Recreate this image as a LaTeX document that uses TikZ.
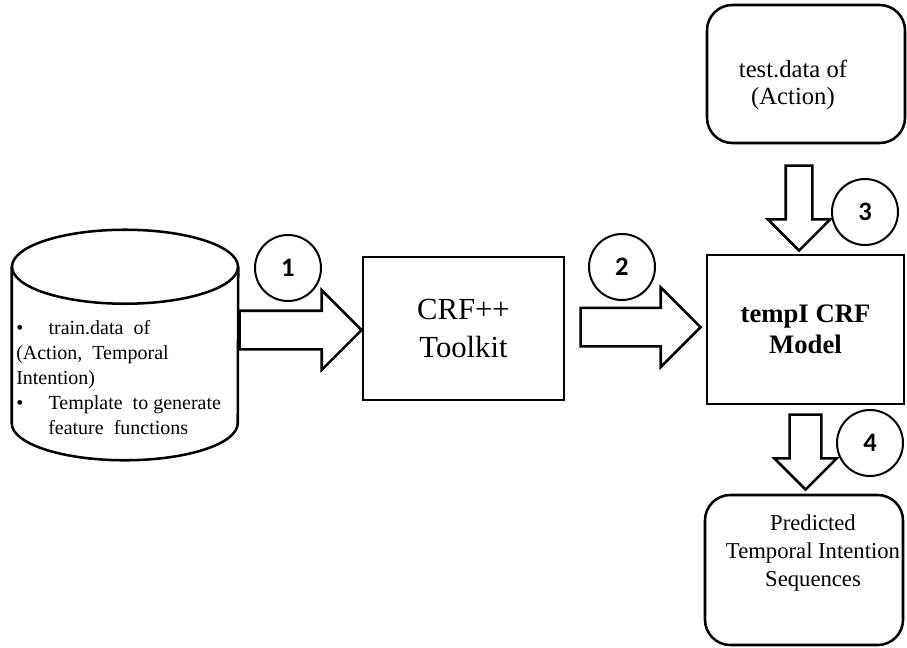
\documentclass[tikz,border=0pt]{standalone}
\usepackage{fontspec}
\setmainfont{Liberation Serif}
\newfontfamily\numfont{Carlito}
\usepackage{tikz}
\usetikzlibrary{shapes.arrows, shapes.geometric, calc, positioning}
\tikzset{
  plainbox/.style = {rectangle, draw, line width=1.9pt, align=center, text centered},
  roundbox/.style = {rectangle, draw, line width=1.9pt, rounded corners=19pt, minimum width=148.5pt},
  boxtext/.style = {align=center, inner sep=0pt},
  numcircle/.style = {circle, draw, line width=1.5pt, minimum size=49.5pt, inner sep=0pt, font=\numfont\bfseries\fontsize{20}{20}\selectfont},
  blockarr/.style = {single arrow, draw, line width=1.9pt, inner sep=0pt, single arrow head extend=15.4pt, minimum width=57.75pt, inner ysep=13.5pt},
  downarr/.style = {blockarr, rotate=-90, single arrow head extend=#1}
}
\begin{document}
\begin{tikzpicture}[x=0.75pt, y=-0.75pt]
    \useasboundingbox (0,0) rectangle (907,647);

    % training data (cylinder)
    \node[minimum width=169.5pt, minimum height=117pt, inner sep=0pt] (db) at (125,345) {};
    \draw[line width=1.9pt] (db.north west) -- (db.south west)
        arc[start angle=180, end angle=0, x radius=113, y radius=37] -- (db.north east);
    \draw[line width=1.9pt] (db.north) ellipse[x radius=113, y radius=37];
    \node[align=left, anchor=west, inner sep=0pt, font=\fontsize{15}{18.75}\selectfont] (dbtext) at (16,378)
        {\textbullet\hspace*{19pt}train.data\ \ of\\
         (Action,\ \ Temporal\\
         Intention)\\
         \textbullet\hspace*{19pt}Template\ \ to generate\\
         \hspace*{24pt}feature\ \ functions};

    % toolkit and model
    \node[plainbox, minimum width=150.75pt, minimum height=107.25pt, font=\fontsize{23}{29}\selectfont] (crf) at (463.5,328.5) {CRF++\\Toolkit};
    \node[plainbox, minimum width=147.75pt, minimum height=111.75pt, font=\bfseries\fontsize{20}{23}\selectfont] (model) at (805.5,329.5) {tempI CRF\\Model};

    % test data and output
    \node[roundbox, minimum height=103.5pt] (test) at (806,74) {};
    \node[boxtext, font=\fontsize{18.5}{20}\selectfont] (testtext) at (793,85) {test.data of\\(Action)};
    \node[roundbox, minimum height=112.5pt] (pred) at (804,570) {};
    \node[boxtext, font=\fontsize{17}{21}\selectfont] (predtext) at (813,553) {Predicted\\Temporal Intention\\Sequences};

    % block arrows
    \node[blockarr, anchor=tail, minimum height=91.5pt] (a1) at ([yshift=11.25pt]db.east) {};
    \node[blockarr, anchor=tail, minimum height=90pt] (a2) at ([xshift=10.5pt, yshift=1pt]crf.east) {};
    \node[downarr=13.5pt, anchor=tail, minimum height=63.75pt, minimum width=45pt, inner ysep=9pt] (a3) at ([xshift=-5.25pt, yshift=-15pt]test.south) {};
    \node[downarr=11.6pt, anchor=tail, minimum height=56.25pt, minimum width=45pt, inner ysep=10.9pt] (a4) at ([yshift=-6pt]model.south) {};

    % step numbers
    \node[numcircle] (n1) at (288,268) {1};
    \node[numcircle] (n2) at (622,267) {2};
    \node[numcircle] (n3) at (865,212) {3};
    \node[numcircle] (n4) at (870,443) {4};
\end{tikzpicture}
\end{document}
